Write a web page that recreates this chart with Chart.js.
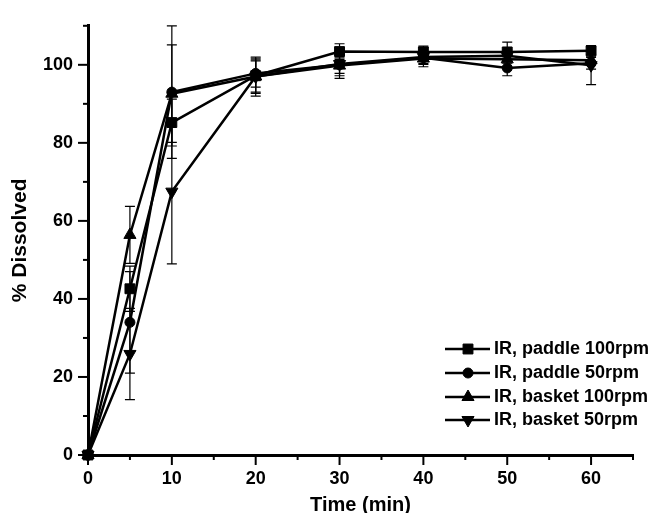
<!DOCTYPE html>
<html><head><meta charset="utf-8">
<script src="https://cdn.jsdelivr.net/npm/chart.js@4"></script>
<style>html,body{margin:0;padding:0;background:#fff}#wrap{width:654px;height:513px;position:relative}</style>
</head><body><div id="wrap"><canvas id="c"></canvas></div>
<script>
const times = [0, 5, 10, 20, 30, 40, 50, 60];
const seriesNames = ['IR, paddle 100rpm', 'IR, paddle 50rpm', 'IR, basket 100rpm', 'IR, basket 50rpm'];
const paddle100 = [0, 42.6, 85.2, 97.2, 103.4, 103.3, 103.3, 103.6];
const paddle100Err = [0, 5.8, 6.0, 4.5, 2.0, 1.5, 2.5, 1.0];
const paddle50 = [0, 34.0, 93.0, 97.8, 100.0, 101.8, 99.2, 100.4];
const paddle50Err = [0, 13.0, 17.0, 3.5, 3.5, 1.5, 2.0, 1.5];
const basket100 = [0, 56.4, 92.6, 97.0, 99.8, 101.6, 101.4, 101.2];
const basket100Err = [0, 7.3, 12.5, 4.0, 2.0, 1.5, 1.0, 1.0];
const basket50 = [0, 25.9, 67.5, 97.0, 100.2, 102.0, 102.3, 99.9];
const basket50Err = [0, 11.7, 18.5, 5.0, 3.0, 2.5, 1.5, 5.0];
const xTickLabels = [0, 10, 20, 30, 40, 50, 60];
const yTickLabels = [0, 20, 40, 60, 80, 100];

const values = [paddle100, paddle50, basket100, basket50];
const errors = [paddle100Err, paddle50Err, basket100Err, basket50Err];
const styles = [
  {pointStyle: 'rect', radius: 7, rotation: 0},
  {pointStyle: 'circle', radius: 5, rotation: 0},
  {pointStyle: 'triangle', radius: 7, rotation: 0},
  {pointStyle: 'triangle', radius: 7, rotation: 180}
];

const datasets = values.map((vals, i) => ({
  label: seriesNames[i],
  data: times.map((t, j) => ({x: t, y: vals[j]})),
  errors: errors[i],
  borderColor: '#000',
  backgroundColor: '#000',
  borderWidth: 2.5,
  pointStyle: styles[i].pointStyle,
  pointRadius: styles[i].radius,
  pointRotation: styles[i].rotation,
  pointBorderWidth: 1,
  clip: false
}));

const FONT = '"Liberation Sans", Arial, sans-serif';

const errorBars = {
  id: 'errorBars',
  beforeDatasetsDraw(chart) {
    const ctx = chart.ctx, ys = chart.scales.y, xs = chart.scales.x;
    ctx.save();
    ctx.strokeStyle = '#000';
    ctx.lineWidth = 1.2;
    chart.data.datasets.forEach(ds => {
      ds.data.forEach((p, j) => {
        const e = ds.errors[j];
        if (!e) return;
        const px = xs.getPixelForValue(p.x);
        const top = ys.getPixelForValue(p.y + e);
        const bot = ys.getPixelForValue(p.y - e);
        ctx.beginPath();
        ctx.moveTo(px, top); ctx.lineTo(px, bot);
        ctx.moveTo(px - 5, top); ctx.lineTo(px + 5, top);
        ctx.moveTo(px - 5, bot); ctx.lineTo(px + 5, bot);
        ctx.stroke();
      });
    });
    ctx.restore();
  }
};

const axisTicks = {
  id: 'axisTicks',
  afterDraw(chart) {
    const ctx = chart.ctx, xs = chart.scales.x, ys = chart.scales.y, a = chart.chartArea;
    ctx.save();
    ctx.strokeStyle = '#000';
    ctx.lineWidth = 2;
    xs.ticks.forEach(t => {
      const px = xs.getPixelForValue(t.value);
      const len = xTickLabels.includes(t.value) ? 10 : 5;
      ctx.beginPath(); ctx.moveTo(px, a.bottom); ctx.lineTo(px, a.bottom + len); ctx.stroke();
    });
    ys.ticks.forEach(t => {
      const py = ys.getPixelForValue(t.value);
      const len = yTickLabels.includes(t.value) ? 10 : 5;
      ctx.beginPath(); ctx.moveTo(a.left, py); ctx.lineTo(a.left - len, py); ctx.stroke();
    });
    ctx.restore();
  }
};

const insideLegend = {
  id: 'insideLegend',
  afterDraw(chart) {
    const ctx = chart.ctx;
    const x0 = 445, x1 = 490, xm = 468, xt = 494;
    const rows = [349, 373, 397, 420];
    ctx.save();
    chart.data.datasets.forEach((ds, i) => {
      const y = rows[i];
      ctx.strokeStyle = '#000';
      ctx.fillStyle = '#000';
      ctx.lineWidth = 2.5;
      ctx.beginPath(); ctx.moveTo(x0, y); ctx.lineTo(x1, y); ctx.stroke();
      ctx.lineWidth = 1;
      Chart.helpers.drawPoint(ctx, {pointStyle: ds.pointStyle, radius: ds.pointRadius, rotation: ds.pointRotation, borderWidth: 1}, xm, y);
      ctx.font = 'bold 18px ' + FONT;
      ctx.textBaseline = 'middle';
      ctx.textAlign = 'left';
      ctx.fillText(ds.label, xt, y);
    });
    ctx.restore();
  }
};

new Chart(document.getElementById('c'), {
  type: 'line',
  data: {datasets},
  options: {
    responsive: true,
    maintainAspectRatio: false,
    animation: false,
    layout: {padding: {top: 15, right: 21, left: 0, bottom: 0}},
    plugins: {legend: {display: false}, tooltip: {enabled: false}},
    scales: {
      x: {
        type: 'linear', min: 0, max: 65,
        afterFit(s) { s.height = 58; },
        ticks: {
          stepSize: 5, autoSkip: false, maxRotation: 0, padding: 13, color: '#000',
          font: {family: FONT, size: 18, weight: 'bold'},
          callback: v => xTickLabels.includes(v) ? String(v) : ''
        },
        grid: {drawOnChartArea: false, drawTicks: false},
        border: {color: '#000', width: 3},
        title: {display: true, text: 'Time (min)', color: '#000', padding: {top: 0, bottom: -4},
          font: {family: FONT, size: 20, weight: 'bold'}}
      },
      y: {
        type: 'linear', min: 0, max: 110,
        afterFit(s) { s.width = 88; },
        ticks: {
          stepSize: 10, autoSkip: false, padding: 15, color: '#000',
          font: {family: FONT, size: 18, weight: 'bold'},
          callback: v => yTickLabels.includes(v) ? String(v) : ''
        },
        grid: {drawOnChartArea: false, drawTicks: false},
        border: {color: '#000', width: 3},
        title: {display: true, text: '% Dissolved', color: '#000', padding: {top: 8, bottom: 0},
          font: {family: FONT, size: 21, weight: 'bold'}}
      }
    }
  },
  plugins: [errorBars, axisTicks, insideLegend]
});
</script></body></html>
